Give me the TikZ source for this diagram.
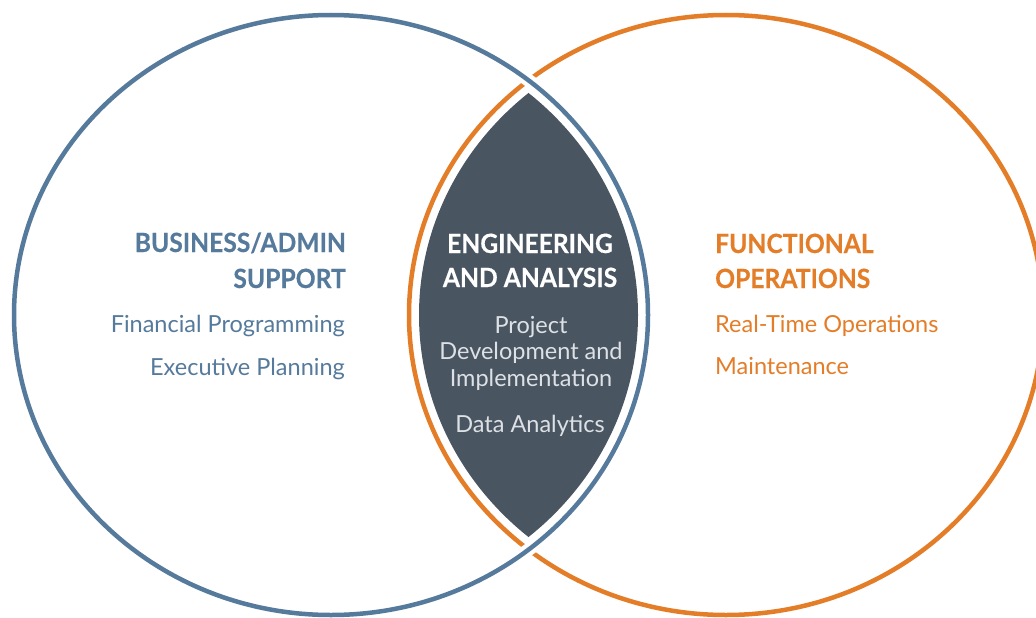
\documentclass[tikz,border=0pt]{standalone}
\usepackage{fontspec}
\setmainfont{Lato}
\newfontfamily\headfont[FakeStretch=0.93, BoldFeatures={FakeBold=0.4}]{Lato}
\definecolor{adminblue}{HTML}{557A9B}
\definecolor{opsorange}{HTML}{E47D28}
\definecolor{lensgray}{HTML}{4A5562}
\definecolor{lenstext}{HTML}{DDE1E5}
\begin{document}
\begin{tikzpicture}[x=1pt,y=-1pt,
  ring/.style={line width=4.5pt},
  head/.style={inner sep=0pt, font=\headfont\bfseries\fontsize{26.5}{30}\selectfont},
  item/.style={inner sep=0pt, font=\fontsize{23.5}{28}\selectfont},
  lensitem/.style={item, text=lenstext}]
\useasboundingbox (0,0) rectangle (1036,618);
\fill[white] (0,0) rectangle (1036,618);
\coordinate (cl) at (331,315);
\coordinate (cr) at (726,315);
% the two rings; the blue one crosses over the orange with a white gap
\draw[ring, opsorange] (cr) ellipse [x radius=317pt, y radius=300pt];
\draw[white, line width=13pt] (cl) ellipse [x radius=317pt, y radius=300pt];
\draw[ring, adminblue] (cl) ellipse [x radius=317pt, y radius=300pt];
% shaded overlap, inset from both rings
\begin{scope}
  \clip (cl) ellipse [x radius=307pt, y radius=290pt];
  \fill[lensgray] (cr) ellipse [x radius=307pt, y radius=290pt];
\end{scope}
% left set
\node[head, text=adminblue, anchor=base east] (bizA) at (346,252) {BUSINESS/ADMIN};
\node[head, text=adminblue, anchor=base east] (bizB) at (346,288) {SUPPORT};
\node[item, text=adminblue, anchor=base east] (fin) at (345,332) {Financial Programming};
\node[item, text=adminblue, anchor=base east] (exe) at (345,375) {Executive Planning};
% overlap
\node[head, text=white, anchor=base] (engA) at (530,253) {ENGINEERING};
\node[head, text=white, anchor=base] (engB) at (530,287) {AND ANALYSIS};
\node[lensitem, anchor=base] (prjA) at (531,333) {Project};
\node[lensitem, anchor=base] (prjB) at (531,359) {Development and};
\node[lensitem, anchor=base] (prjC) at (531,386) {Implementation};
\node[lensitem, anchor=base] (dat) at (530,432) {Data Analytics};
% right set
\node[head, text=opsorange, anchor=base west] (opsA) at (715,253) {FUNCTIONAL};
\node[head, text=opsorange, anchor=base west] (opsB) at (715,288) {OPERATIONS};
\node[item, text=opsorange, anchor=base west] (rto) at (715,332) {Real-Time Operations};
\node[item, text=opsorange, anchor=base west] (mnt) at (715,374) {Maintenance};
\end{tikzpicture}
\end{document}
